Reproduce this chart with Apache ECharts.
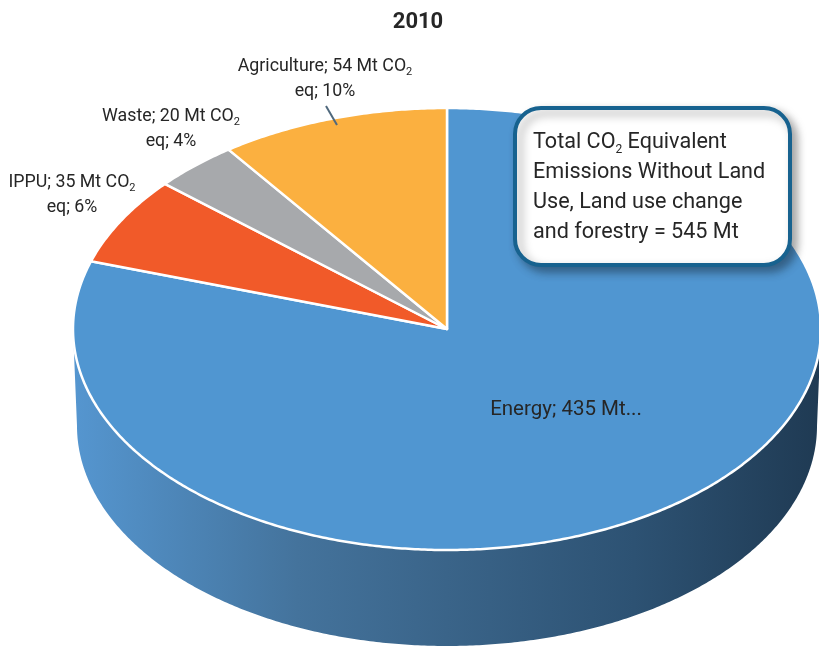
<!DOCTYPE html>
<html>
<head>
<meta charset="utf-8">
<script src="https://cdn.jsdelivr.net/npm/echarts@6/dist/echarts.min.js"></script>
<style>
html,body{margin:0;padding:0;background:#fff;}
#chart{width:819px;height:650px;}
</style>
</head>
<body>
<div id="chart"></div>
<script>
// ---- data ----
const titleText = '2010';
const categories = ['Energy', 'IPPU', 'Waste', 'Agriculture'];
const values = [435, 35, 20, 54];
const percents = [80, 6, 4, 10];
const unit = 'Mt';
const totalMt = 545;

// ---- layout / style ----
const CX = 447, CY = 329, RX = 374, RY = 221, DEPTH = 97, RXB = 370, RYB = 220;
const colors = ['#5096d1', '#f15a29', '#a7a9ac', '#fbb040'];
const FONT = 'Roboto';
const TXT = '#262626';

const total = values.reduce((a, b) => a + b, 0);

function ellPt(a, cx, cy, rx, ry) {
  return [cx + rx * Math.sin(a), cy - ry * Math.cos(a)];
}

function renderItem(params, api) {
  const i = params.dataIndex;
  let before = 0;
  for (let j = 0; j < i; j++) before += values[j];
  const v = api.value(0);
  const a0 = before / total * Math.PI * 2;
  const a1 = (before + v) / total * Math.PI * 2;
  const steps = Math.max(2, Math.ceil((a1 - a0) / (Math.PI / 360)));
  const pts = [[CX, CY]];
  for (let k = 0; k <= steps; k++) {
    pts.push(ellPt(a0 + (a1 - a0) * k / steps, CX, CY, RX, RY));
  }
  const children = [];
  if (i === 0) {
    const side = [];
    const n = 360;
    for (let k = 0; k <= n; k++) {
      side.push(ellPt(Math.PI / 2 + Math.PI * k / n, CX, CY, RX, RY));
    }
    for (let k = n; k >= 0; k--) {
      side.push(ellPt(Math.PI / 2 + Math.PI * k / n, CX, CY + DEPTH, RXB, RYB));
    }
    children.push({
      type: 'polygon',
      shape: { points: side },
      style: {
        fill: new echarts.graphic.LinearGradient(0, 0, 1, 0, [
          { offset: 0, color: '#5596d0' },
          { offset: 0.3, color: '#44739c' },
          { offset: 0.5, color: '#3a6489' },
          { offset: 0.75, color: '#2d5273' },
          { offset: 1, color: '#1f3a53' }
        ]),
        stroke: null
      }
    });
  }
  children.push({
    type: 'polygon',
    shape: { points: pts },
    style: { fill: colors[i], stroke: '#ffffff', lineWidth: 2.5, lineJoin: 'round' }
  });
  return { type: 'group', children: children };
}

function outLabel(i) {
  return categories[i] + '; ' + values[i] + ' ' + unit + ' CO{sub|2}\neq; ' + percents[i] + '%';
}

function labelEl(i, x, y) {
  return {
    type: 'text',
    x: x, y: y, z: 100,
    style: {
      text: outLabel(i),
      fill: TXT,
      fontSize: 17.8,
      fontFamily: FONT,
      lineHeight: 25,
      align: 'center',
      verticalAlign: 'top',
      rich: {
        sub: { fontSize: 11, fontFamily: FONT, fill: TXT, lineHeight: 25, padding: [12, 0, 0, 0] }
      }
    }
  };
}

const chart = echarts.init(document.getElementById('chart'), null, { renderer: 'canvas' });
chart.setOption({
  animation: false,
  series: [{
    type: 'custom',
    coordinateSystem: 'none',
    renderItem: renderItem,
    z: 1,
    data: values.map((v, i) => ({ name: categories[i], value: [v] }))
  }],
  graphic: [
    {
      type: 'text', x: 418, y: 22, z: 100,
      style: { text: titleText, fill: '#262626', fontSize: 22, fontWeight: 'bold', fontFamily: FONT, align: 'center', verticalAlign: 'middle' }
    },
    labelEl(3, 325, 54),
    labelEl(2, 171, 104),
    labelEl(1, 72, 170),
    {
      type: 'line', z: 100,
      shape: { x1: 326, y1: 106, x2: 337, y2: 125 },
      style: { stroke: '#50697d', lineWidth: 2 }
    },
    {
      type: 'text', x: 566, y: 410, z: 100,
      style: {
        text: categories[0] + '; ' + values[0] + ' ' + unit + '...',
        fill: '#262626', fontSize: 20.5, fontFamily: FONT, align: 'center', verticalAlign: 'middle'
      }
    },
    {
      type: 'group', x: 515, y: 108, z: 100,
      children: [
        {
          type: 'rect', z: 100,
          shape: { x: 0, y: 0, width: 275, height: 157, r: 26 },
          style: {
            fill: '#ffffff', stroke: '#17628f', lineWidth: 4,
            shadowBlur: 10, shadowOffsetX: 5, shadowOffsetY: 5, shadowColor: 'rgba(0,0,0,0.35)'
          }
        },
        {
          type: 'text', x: 18, y: 20, z: 101,
          style: {
            text: 'Total CO{sub|2} Equivalent\nEmissions Without Land\nUse, Land use change\nand forestry = ' + totalMt + ' ' + unit,
            fill: '#262626', fontSize: 21.6, fontFamily: FONT, lineHeight: 30,
            align: 'left', verticalAlign: 'top',
            rich: {
              sub: { fontSize: 12, fontFamily: FONT, fill: '#262626', lineHeight: 30, padding: [14, 0, 0, 0] }
            }
          }
        }
      ]
    }
  ]
});
</script>
</body>
</html>
